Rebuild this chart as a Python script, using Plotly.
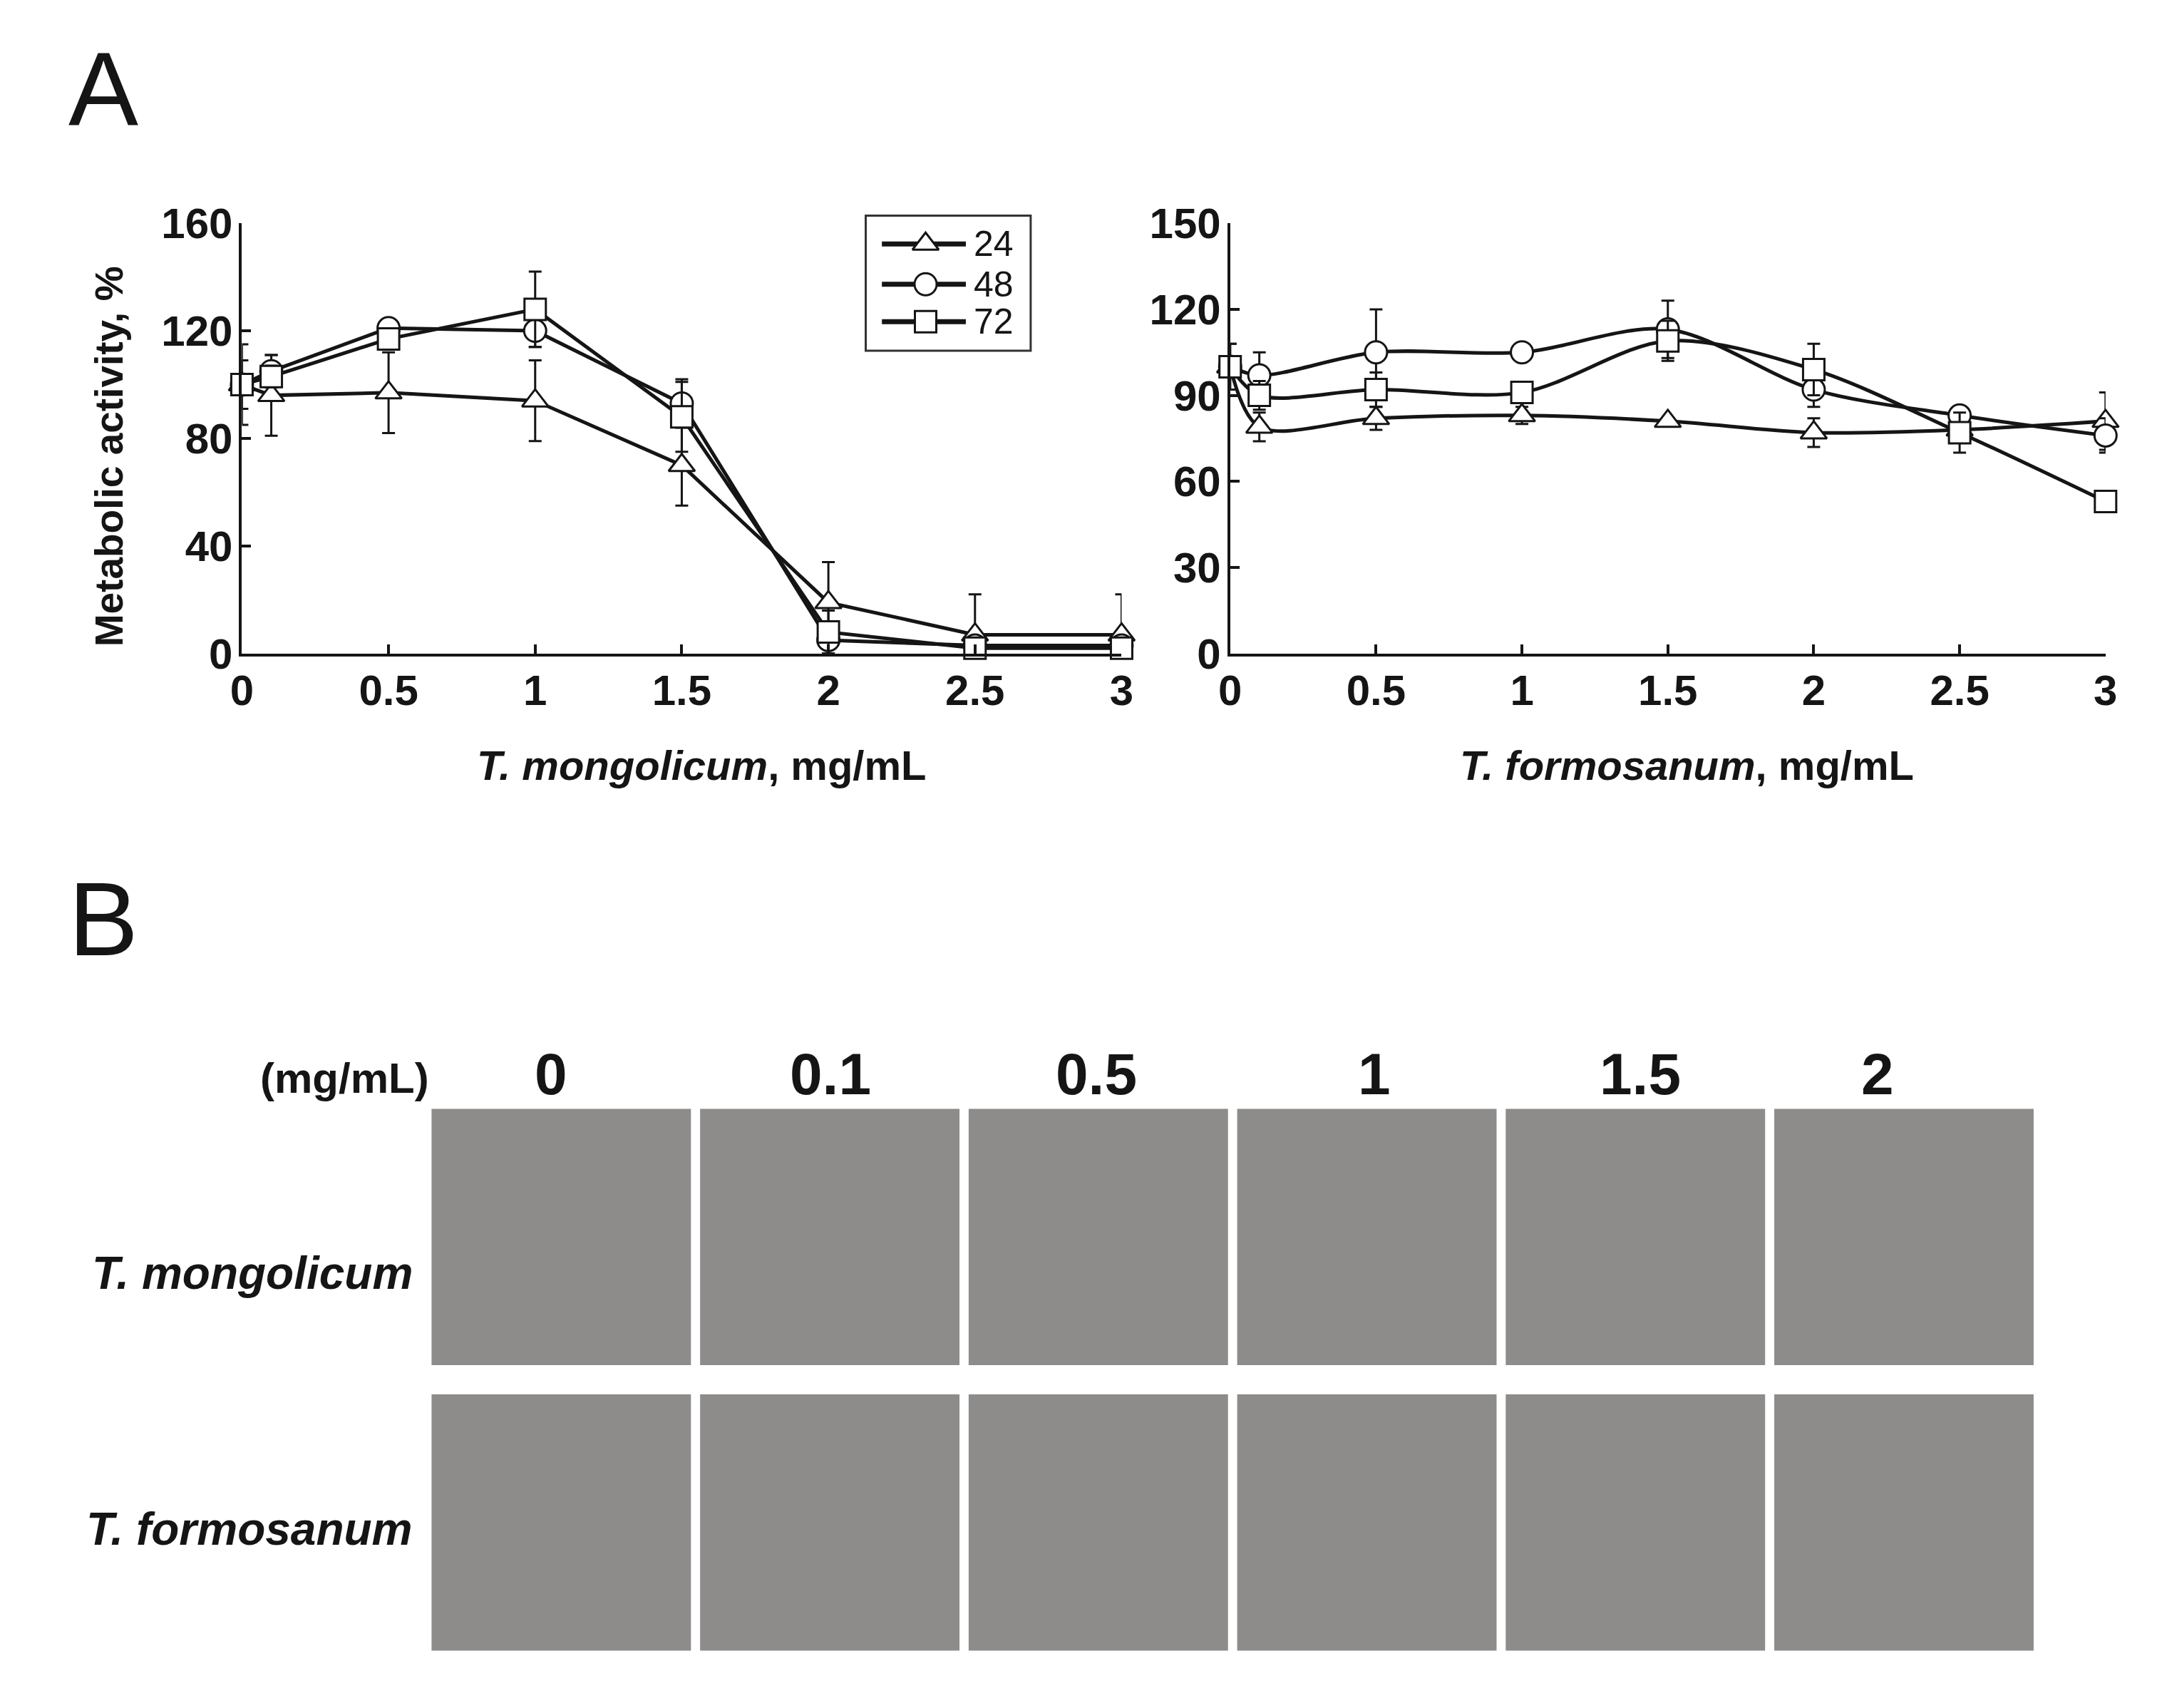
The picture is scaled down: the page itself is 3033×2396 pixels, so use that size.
import plotly.graph_objects as go

# ---------------- data ----------------
conc = [0, 0.1, 0.5, 1, 1.5, 2, 2.5, 3]
hours = ["24", "48", "72"]
x_ticks = [0, 0.5, 1, 1.5, 2, 2.5, 3]
x_tick_labels = ["0", "0.5", "1", "1.5", "2", "2.5", "3"]

# T. mongolicum (metabolic activity, %)
mong_24 = [100, 96, 97, 94, 70, 19, 7, 7]
mong_24_err = [15, 15, 15, 15, 15, 15, 15, 15]
mong_48 = [100, 105, 121, 120, 93, 5, 3, 3]
mong_48_err = [9, 6, 2, 6, 9, 5, 2, 2]
mong_72 = [100, 103, 117, 128, 88, 8, 2, 2]
mong_72_err = [2, 4, 3, 14, 13, 8, 2, 2]

# T. formosanum (metabolic activity, %)
form_24 = [100, 79, 82, 83, 81, 77, 78, 81]
form_24_err = [8, 5, 4, 3, 1, 5, 2, 10]
form_48 = [100, 97, 105, 105, 113, 92, 83, 76]
form_48_err = [8, 8, 15, 1, 10, 6, 3, 6]
form_72 = [100, 90, 92, 91, 109, 99, 77, 53]
form_72_err = [2, 5, 6, 1, 7, 9, 7, 2]

# panel B labels
b_conc_labels = ["0", "0.1", "0.5", "1", "1.5", "2"]
b_species = ["T. mongolicum", "T. formosanum"]

# ---------------- styling / layout ----------------
W, H = 3033, 2396
FONT = "Arial, Liberation Sans, Helvetica, sans-serif"
INK = "#151515"

def px(x):
    return x / W

def py(y):
    return 1 - y / H

symbols = {"24": "triangle-up", "48": "circle", "72": "square"}
msize = {"24": 32, "48": 31, "72": 30}

fig = go.Figure()

series_left = [("24", mong_24, mong_24_err), ("48", mong_48, mong_48_err), ("72", mong_72, mong_72_err)]
series_right = [("24", form_24, form_24_err), ("48", form_48, form_48_err), ("72", form_72, form_72_err)]

for axes, series, shape in [(("x", "y"), series_left, "linear"), (("x2", "y2"), series_right, "spline")]:
    for h, vals, err in series:
        fig.add_trace(go.Scatter(
            x=conc, y=vals, xaxis=axes[0], yaxis=axes[1],
            mode="lines+markers", name=h, showlegend=False, cliponaxis=False,
            line=dict(color=INK, width=5, shape=shape, smoothing=0.9),
            marker=dict(symbol=symbols[h], size=msize[h], color="white",
                        line=dict(color=INK, width=3)),
            error_y=dict(type="data", array=err, visible=True, color=INK,
                         thickness=3, width=9),
        ))

# custom legend drawn on its own small axis
leg_rows = [0.79, 0.492, 0.215]
for h, yy in zip(hours, leg_rows):
    fig.add_trace(go.Scatter(
        x=[0.098, 0.607], y=[yy, yy], xaxis="x3", yaxis="y3", mode="lines",
        line=dict(color=INK, width=7), showlegend=False, hoverinfo="skip"))
    fig.add_trace(go.Scatter(
        x=[0.363], y=[yy], xaxis="x3", yaxis="y3", mode="markers",
        marker=dict(symbol=symbols[h], size=msize[h], color="white",
                    line=dict(color=INK, width=3)),
        showlegend=False, hoverinfo="skip"))

tick_font = dict(family=FONT, size=60, color=INK, weight="bold")

xcommon = dict(range=[0, 3], tickvals=x_ticks, ticktext=x_tick_labels,
               ticks="inside", ticklen=13, tickwidth=3.5, tickcolor=INK,
               showline=True, linecolor=INK, linewidth=4, showgrid=False,
               zeroline=False, tickfont=tick_font, ticklabelstandoff=-4)
ycommon = dict(ticks="inside", ticklen=13, tickwidth=3.5, tickcolor=INK,
               showline=True, linecolor=INK, linewidth=4, showgrid=False,
               zeroline=False, tickfont=tick_font, ticklabelstandoff=-3)

y_dom = [py(901), py(280)]

fig.update_layout(
    width=W, height=H, margin=dict(l=0, r=0, t=0, b=0),
    paper_bgcolor="white", plot_bgcolor="rgba(0,0,0,0)",
    showlegend=False,
    xaxis=dict(domain=[px(318), px(1566)], anchor="y", **xcommon),
    yaxis=dict(domain=y_dom, anchor="x", range=[0, 160], tickvals=[0, 40, 80, 120, 160], **ycommon),
    xaxis2=dict(domain=[px(1720), px(2962)], anchor="y2", **xcommon),
    yaxis2=dict(domain=y_dom, anchor="x2", range=[0, 150], tickvals=[0, 30, 60, 90, 120, 150], **ycommon),
    xaxis3=dict(domain=[px(1203), px(1437)], anchor="y3", range=[0, 1], visible=False, fixedrange=True),
    yaxis3=dict(domain=[py(464), py(269)], anchor="x3", range=[0, 1], visible=False, fixedrange=True),
)

shapes = []
# legend box
shapes.append(dict(type="rect", xref="paper", yref="paper",
                   x0=px(1203), x1=px(1437), y0=py(464), y1=py(269),
                   line=dict(color="#333", width=3), fillcolor="rgba(0,0,0,0)"))

# panel B micrograph tiles (drawn as plain grey panels)
tile_left0, tile_pitch, tile_w = 587, 381, 368
row_tops, tile_h = [1558, 1970], 370
for r, top in enumerate(row_tops):
    for c, _ in enumerate(b_conc_labels):
        x0 = tile_left0 + c * tile_pitch
        shapes.append(dict(type="rect", xref="paper", yref="paper",
                           x0=px(x0), x1=px(x0 + tile_w), y0=py(top + tile_h), y1=py(top),
                           line=dict(width=0), fillcolor="#8e8c8a", layer="below"))
fig.update_layout(shapes=shapes)

ann = []
# legend text
for h, yy in zip(hours, leg_rows):
    ann.append(dict(xref="x3", yref="y3", x=0.645, y=yy, xanchor="left", yanchor="middle",
                    text=h, showarrow=False, font=dict(family=FONT, size=50, color=INK)))
# panel letters
ann.append(dict(xref="paper", yref="paper", x=px(70), y=py(86), xanchor="left", yanchor="middle",
                text="A", showarrow=False, font=dict(family=FONT, size=147, color=INK)))
ann.append(dict(xref="paper", yref="paper", x=px(70), y=py(1284), xanchor="left", yanchor="middle",
                text="B", showarrow=False, font=dict(family=FONT, size=147, color=INK)))
# axis titles
ann.append(dict(xref="paper", yref="paper", x=px(129), y=py(617), xanchor="center", yanchor="middle",
                textangle=-90, text="<b>Metabolic activity, %</b>", showarrow=False,
                font=dict(family=FONT, size=55, color=INK)))
ann.append(dict(xref="paper", yref="paper", x=px(970), y=py(1062), xanchor="center", yanchor="middle",
                text="<b><i>T. mongolicum</i>, mg/mL</b>", showarrow=False,
                font=dict(family=FONT, size=58, color=INK)))
ann.append(dict(xref="paper", yref="paper", x=px(2368), y=py(1062), xanchor="center", yanchor="middle",
                text="<b><i>T. formosanum</i>, mg/mL</b>", showarrow=False,
                font=dict(family=FONT, size=58, color=INK)))
# panel B headers
ann.append(dict(xref="paper", yref="paper", x=px(586), y=py(1514), xanchor="right", yanchor="middle",
                text="<b>(mg/mL)</b>", showarrow=False, font=dict(family=FONT, size=60, color=INK)))
header_x = [756, 1153, 1530, 1925, 2302, 2639]
for lab, hx in zip(b_conc_labels, header_x):
    ann.append(dict(xref="paper", yref="paper", x=px(hx), y=py(1508), xanchor="center", yanchor="middle",
                    text="<b>" + lab + "</b>", showarrow=False, font=dict(family=FONT, size=82, color=INK)))
row_label_y = [1795, 2165]
for sp, ry in zip(b_species, row_label_y):
    ann.append(dict(xref="paper", yref="paper", x=px(562), y=py(ry), xanchor="right", yanchor="middle",
                    text="<b><i>" + sp + "</i></b>", showarrow=False, font=dict(family=FONT, size=64, color=INK)))
fig.update_layout(annotations=ann)

fig.write_html("out.html")
